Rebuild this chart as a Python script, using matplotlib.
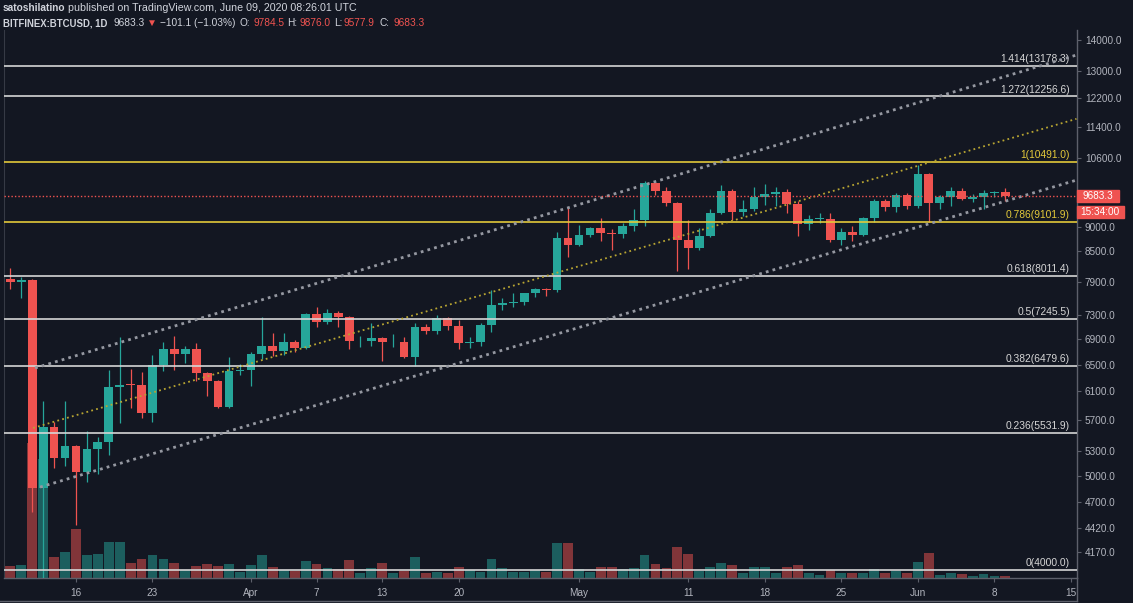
import numpy as np
import pandas as pd
import matplotlib
matplotlib.use("Agg")
import matplotlib.pyplot as plt
from matplotlib.patches import Rectangle
from matplotlib.lines import Line2D
from matplotlib.ticker import NullLocator

plt.rcParams['font.family'] = ['Liberation Sans', 'DejaVu Sans']

BG = '#131722'
UP = '#26a69a'
DOWN = '#ef5350'
UP_VOL = '#1c5e5e'
DOWN_VOL = '#813539'
TXT = '#d1d4dc'
AXIS_TXT = '#b2b5be'
FIB_WHITE = '#d6d6d6'
FIB_YELLOW = '#e3c93a'

# daily candles BITFINEX:BTCUSD, Mar 10 - Jun 9 2020
dates = pd.date_range('2020-03-10', '2020-06-09', freq='D')

opens = [7950, 7900, 7940, 4860, 5615, 5210, 5365, 5040, 5330, 5410,
         6160, 6200, 6190, 5800, 6500, 6750, 6670, 6750, 6370, 6250,
         5875, 6405, 6425, 6665, 6790, 6715, 6850, 6765, 7325, 7190,
         7345, 7280, 6865, 6880, 6915, 6850, 6860, 6620, 7100, 7030,
         7260, 7120, 6840, 6860, 7130, 7490, 7510, 7540, 7690, 7780,
         7755, 8770, 8620, 8830, 8970, 8880, 8860, 9010, 9150, 9985,
         9800, 9530, 8730, 8570, 8810, 9310, 9790, 9315, 9380, 9670,
         9730, 9780, 9510, 9060, 9170, 9180, 8720, 8900, 8840, 9200,
         9580, 9430, 9700, 9450, 10200, 9520, 9670, 9790, 9620, 9670,
         9750, 9784.5]
highs = [8160, 7990, 7960, 5960, 5670, 5970, 5380, 5550, 5480, 6410,
         6930, 6440, 6380, 6650, 6850, 6950, 6790, 6840, 6380, 6270,
         6620, 6510, 6700, 7270, 7010, 7000, 6890, 7350, 7450, 7420,
         7370, 7290, 6950, 7180, 6930, 6980, 6930, 7180, 7150, 7300,
         7280, 7220, 6940, 7170, 7760, 7600, 7700, 7700, 7790, 7790,
         8890, 9430, 9050, 9000, 9200, 8950, 9080, 9400, 10030, 10000,
         9900, 9550, 9150, 8980, 9390, 9930, 9840, 9590, 9890, 9950,
         9900, 9840, 9560, 9260, 9300, 9300, 8970, 9010, 9220, 9620,
         9610, 9740, 9740, 10420, 10230, 9700, 9880, 9860, 9720, 9810,
         9800, 9876.0]
lows = [7770, 7600, 4590, 3850, 5085, 5120, 4450, 4930, 5015, 5245,
        5660, 5870, 5730, 5670, 6400, 6415, 6530, 6250, 6030, 5870,
        5860, 6340, 6180, 6580, 6630, 6650, 6690, 6750, 7100, 7150,
        7110, 6750, 6770, 6790, 6560, 6770, 6600, 6480, 6990, 6990,
        7050, 6750, 6760, 6800, 7020, 7400, 7440, 7480, 7620, 7650,
        7710, 8380, 8600, 8780, 8700, 8530, 8760, 8910, 9010, 9700,
        9450, 8100, 8150, 8520, 8790, 9270, 9140, 9230, 9340, 9470,
        9460, 9300, 8800, 8930, 9080, 8680, 8630, 8700, 8800, 9110,
        9350, 9320, 9390, 9410, 9100, 9380, 9450, 9590, 9540, 9380,
        9650, 9577.9]
closes = [7900, 7940, 4860, 5615, 5210, 5365, 5040, 5330, 5410, 6160,
          6200, 6190, 5800, 6500, 6750, 6670, 6750, 6370, 6250, 5875,
          6405, 6425, 6665, 6790, 6715, 6850, 6765, 7325, 7190, 7345,
          7280, 6865, 6880, 6915, 6850, 6860, 6620, 7100, 7030, 7260,
          7120, 6840, 6860, 7130, 7490, 7510, 7540, 7690, 7780, 7755,
          8770, 8620, 8830, 8970, 8880, 8860, 9010, 9150, 9985, 9800,
          9530, 8730, 8570, 8810, 9310, 9790, 9315, 9380, 9670, 9730,
          9780, 9510, 9060, 9170, 9180, 8720, 8900, 8840, 9200, 9580,
          9430, 9700, 9450, 10200, 9520, 9670, 9790, 9620, 9670, 9750,
          9784.5, 9683.3]
# relative volume (read as bar heights)
volume = [11.7, 12.7, 135, 119, 21.3, 26, 48.7, 22.7, 24.3, 36,
          35.7, 15, 18.7, 22.7, 19.3, 15, 7.7, 12, 13.7, 12.3,
          14, 6.3, 13, 22.7, 11.3, 8.3, 6.7, 16.7, 14, 9.7,
          8.7, 18.3, 5.3, 10, 14.7, 5.3, 7, 20.7, 5.3, 6,
          5.3, 11.3, 7.7, 6.3, 18.7, 10, 6, 6.3, 7.7, 6,
          35, 34.7, 9, 6, 11.3, 11, 8.7, 10, 23, 14.3,
          9.7, 31, 24, 6.7, 11.3, 14.7, 13, 5.3, 11.3, 10.7,
          5.3, 11, 13, 5.3, 3, 8, 5.3, 5.3, 5.3, 8.7,
          5.3, 7, 5.3, 15.7, 24.7, 3, 5.3, 4.3, 2, 4.3,
          2.3, 2]

# fibonacci retracement levels
fib_ratios = ['0', '0.236', '0.382', '0.5', '0.618', '0.786', '1', '1.272', '1.414']
fib_prices = [4000.0, 5531.9, 6479.6, 7245.5, 8011.4, 9101.9, 10491.0, 12256.6, 13178.3]
fib_yellow = ['0.786', '1']

# trend channel anchors (day offset from Mar 10, price)
chan_x = [2.26, 97.5]
chan_upper = [6448, 13512]
chan_mid_x = [2.08, 97.5]
chan_mid = [5596, 11620]
chan_low_x = [2.72, 97.5]
chan_low = [4866, 10053]

price_ticks = [14000, 13000, 12200, 11400, 10600, 9800, 9000, 8500, 7900,
               7300, 6900, 6500, 6100, 5700, 5300, 5000, 4700, 4420, 4170]
hidden_tick = 9800  # sits under the last price tag
tick_dates = ['2020-03-16', '2020-03-23', '2020-04-01', '2020-04-07', '2020-04-13',
              '2020-04-20', '2020-05-01', '2020-05-11', '2020-05-18', '2020-05-25',
              '2020-06-01', '2020-06-08', '2020-06-15']
tick_labels = ['16', '23', 'Apr', '7', '13', '20', 'May', '11', '18', '25', 'Jun', '8', '15']

# figure layout in pixels
W, H = 1133, 603
L, R, T, B = 4, 1076.6, 30, 578
rect = [L / W, 1 - B / H, (R - L) / W, (B - T) / H]
XLIM = (-0.58, 97.51)
YLIM = (3925, 14335)

fig = plt.figure(figsize=(W / 100, H / 100), dpi=100, facecolor=BG)

# volume behind candles
vax = fig.add_axes(rect)
vax.axis('off')
ax = fig.add_axes(rect, facecolor='none')

x = np.arange(len(dates))
o = np.array(opens, dtype=float)
c = np.array(closes, dtype=float)
up = c >= o
candle_colors = [UP if u else DOWN for u in up]
vol_colors = [UP_VOL if u else DOWN_VOL for u in up]

vax.bar(x, volume, width=0.9, color=vol_colors)
vax.set_xlim(XLIM)
vax.set_ylim(0, max(volume) * 4.06)

# candles
ax.vlines(x, lows, highs, color=candle_colors, lw=0.9, zorder=3)
body_lo = np.minimum(o, c)
body_h = np.maximum(np.abs(c - o), body_lo * 0.002)
ax.bar(x, body_h, bottom=body_lo, width=0.8, color=candle_colors, zorder=4)

ax.set_yscale('log')
ax.set_xlim(XLIM)
ax.set_ylim(YLIM)

# fib levels
label_x = (1070 - L) / (R - L)
for r, p in zip(fib_ratios, fib_prices):
    col = FIB_YELLOW if r in fib_yellow else FIB_WHITE
    ax.axhline(p, color=col, lw=1.4, alpha=0.85, zorder=5)
    ax.annotate(f'{r}({p:.1f})', xy=(label_x, p), xycoords=('axes fraction', 'data'),
                xytext=(0, 1.2), textcoords='offset points', ha='right', va='bottom',
                fontsize=7.4, color=col, zorder=6)

# channel
ax.plot(chan_x, chan_upper, color='#9598a1', lw=2.0, ls=(0, (1, 1.5)), zorder=6)
ax.plot(chan_low_x, chan_low, color='#9598a1', lw=2.0, ls=(0, (1, 1.5)), zorder=6)
ax.plot(chan_mid_x, chan_mid, color='#b8a532', lw=1.3, ls=(0, (1, 1.8)), zorder=6)

# last price line
ax.axhline(closes[-1], color=DOWN, lw=1.0, ls=(0, (1, 1.5)), zorder=6)

# axes styling
ax.yaxis.tick_right()
ax.set_yticks(price_ticks)
ax.set_yticklabels(['' if t == hidden_tick else f'{t:.1f}' for t in price_ticks])
ax.yaxis.set_minor_locator(NullLocator())
ax.tick_params(axis='y', colors='#5d606b', labelcolor=AXIS_TXT, length=3, width=0.8,
               pad=3, labelsize=7.2)
start = dates[0]
tick_pos = [(pd.Timestamp(d) - start).days for d in tick_dates]
ax.set_xticks(tick_pos)
ax.set_xticklabels(tick_labels)
ax.tick_params(axis='x', colors='#5d606b', labelcolor=AXIS_TXT, length=3, width=0.8,
               pad=4, labelsize=7.2)
ax.spines['top'].set_visible(False)
ax.spines['left'].set_color('#363a45')
for s in ('right', 'bottom'):
    ax.spines[s].set_color('#5d606b')
    ax.spines[s].set_linewidth(1.0)

# frame lines around the time axis
fig.add_artist(Line2D([0, R / W], [1 - 601 / H] * 2, transform=fig.transFigure,
                      color='#5d606b', lw=1.0))
fig.add_artist(Line2D([R / W] * 2, [1 - 601 / H, 1 - B / H], transform=fig.transFigure,
                      color='#5d606b', lw=1.0))

# last price tag
span = np.log(YLIM[1]) - np.log(YLIM[0])
yf = (np.log(closes[-1]) - np.log(YLIM[0])) / span
px_h = B - T
px_w = R - L
w1, h1 = 42.6 / px_w, 11.6 / px_h
ax.add_patch(Rectangle((1.0, yf - h1 / 2), w1, h1, transform=ax.transAxes,
                       color=DOWN, clip_on=False, zorder=10))
ax.text(1.0 + w1 / 2, yf, f'{closes[-1]:.1f}', transform=ax.transAxes, ha='center',
        va='center', color='white', fontsize=7.2, clip_on=False, zorder=11)
yf2 = yf - 16.3 / px_h
w2, h2 = 47 / px_w, 12.3 / px_h
ax.add_patch(Rectangle((0.4 / px_w + 1.0, yf2 - h2 / 2), w2, h2, transform=ax.transAxes,
                       color=DOWN, clip_on=False, zorder=10))
ax.text(1.0 + w2 / 2, yf2, '15:34:00', transform=ax.transAxes, ha='center',
        va='center', color='white', fontsize=7.2, clip_on=False, zorder=11)

# header
def put(px, py, s, color=TXT, bold=False, size=7.3):
    fig.text(px / W, 1 - py / H, s, color=color, fontsize=size, va='center', ha='left',
             fontweight='bold' if bold else 'normal')

put(3, 8, 'satoshilatino', bold=True)
put(68, 8, 'published on TradingView.com, June 09, 2020 08:26:01 UTC', size=7.7)
put(3, 23, 'BITFINEX:BTCUSD, 1D', bold=True, size=6.9)
put(113, 23, '9683.3')
put(147, 23, '\u25bc', color=DOWN)
put(160, 23, '\u2212101.1 (\u22121.03%)')
put(240, 23, 'O:')
put(253, 23, '9784.5', color=DOWN)
put(287, 23, 'H:')
put(300, 23, '9876.0', color=DOWN)
put(334, 23, 'L:')
put(343, 23, '9577.9', color=DOWN)
put(380, 23, 'C:')
put(393, 23, '9683.3', color=DOWN)

fig.savefig('out.png', dpi=100, facecolor=BG)
